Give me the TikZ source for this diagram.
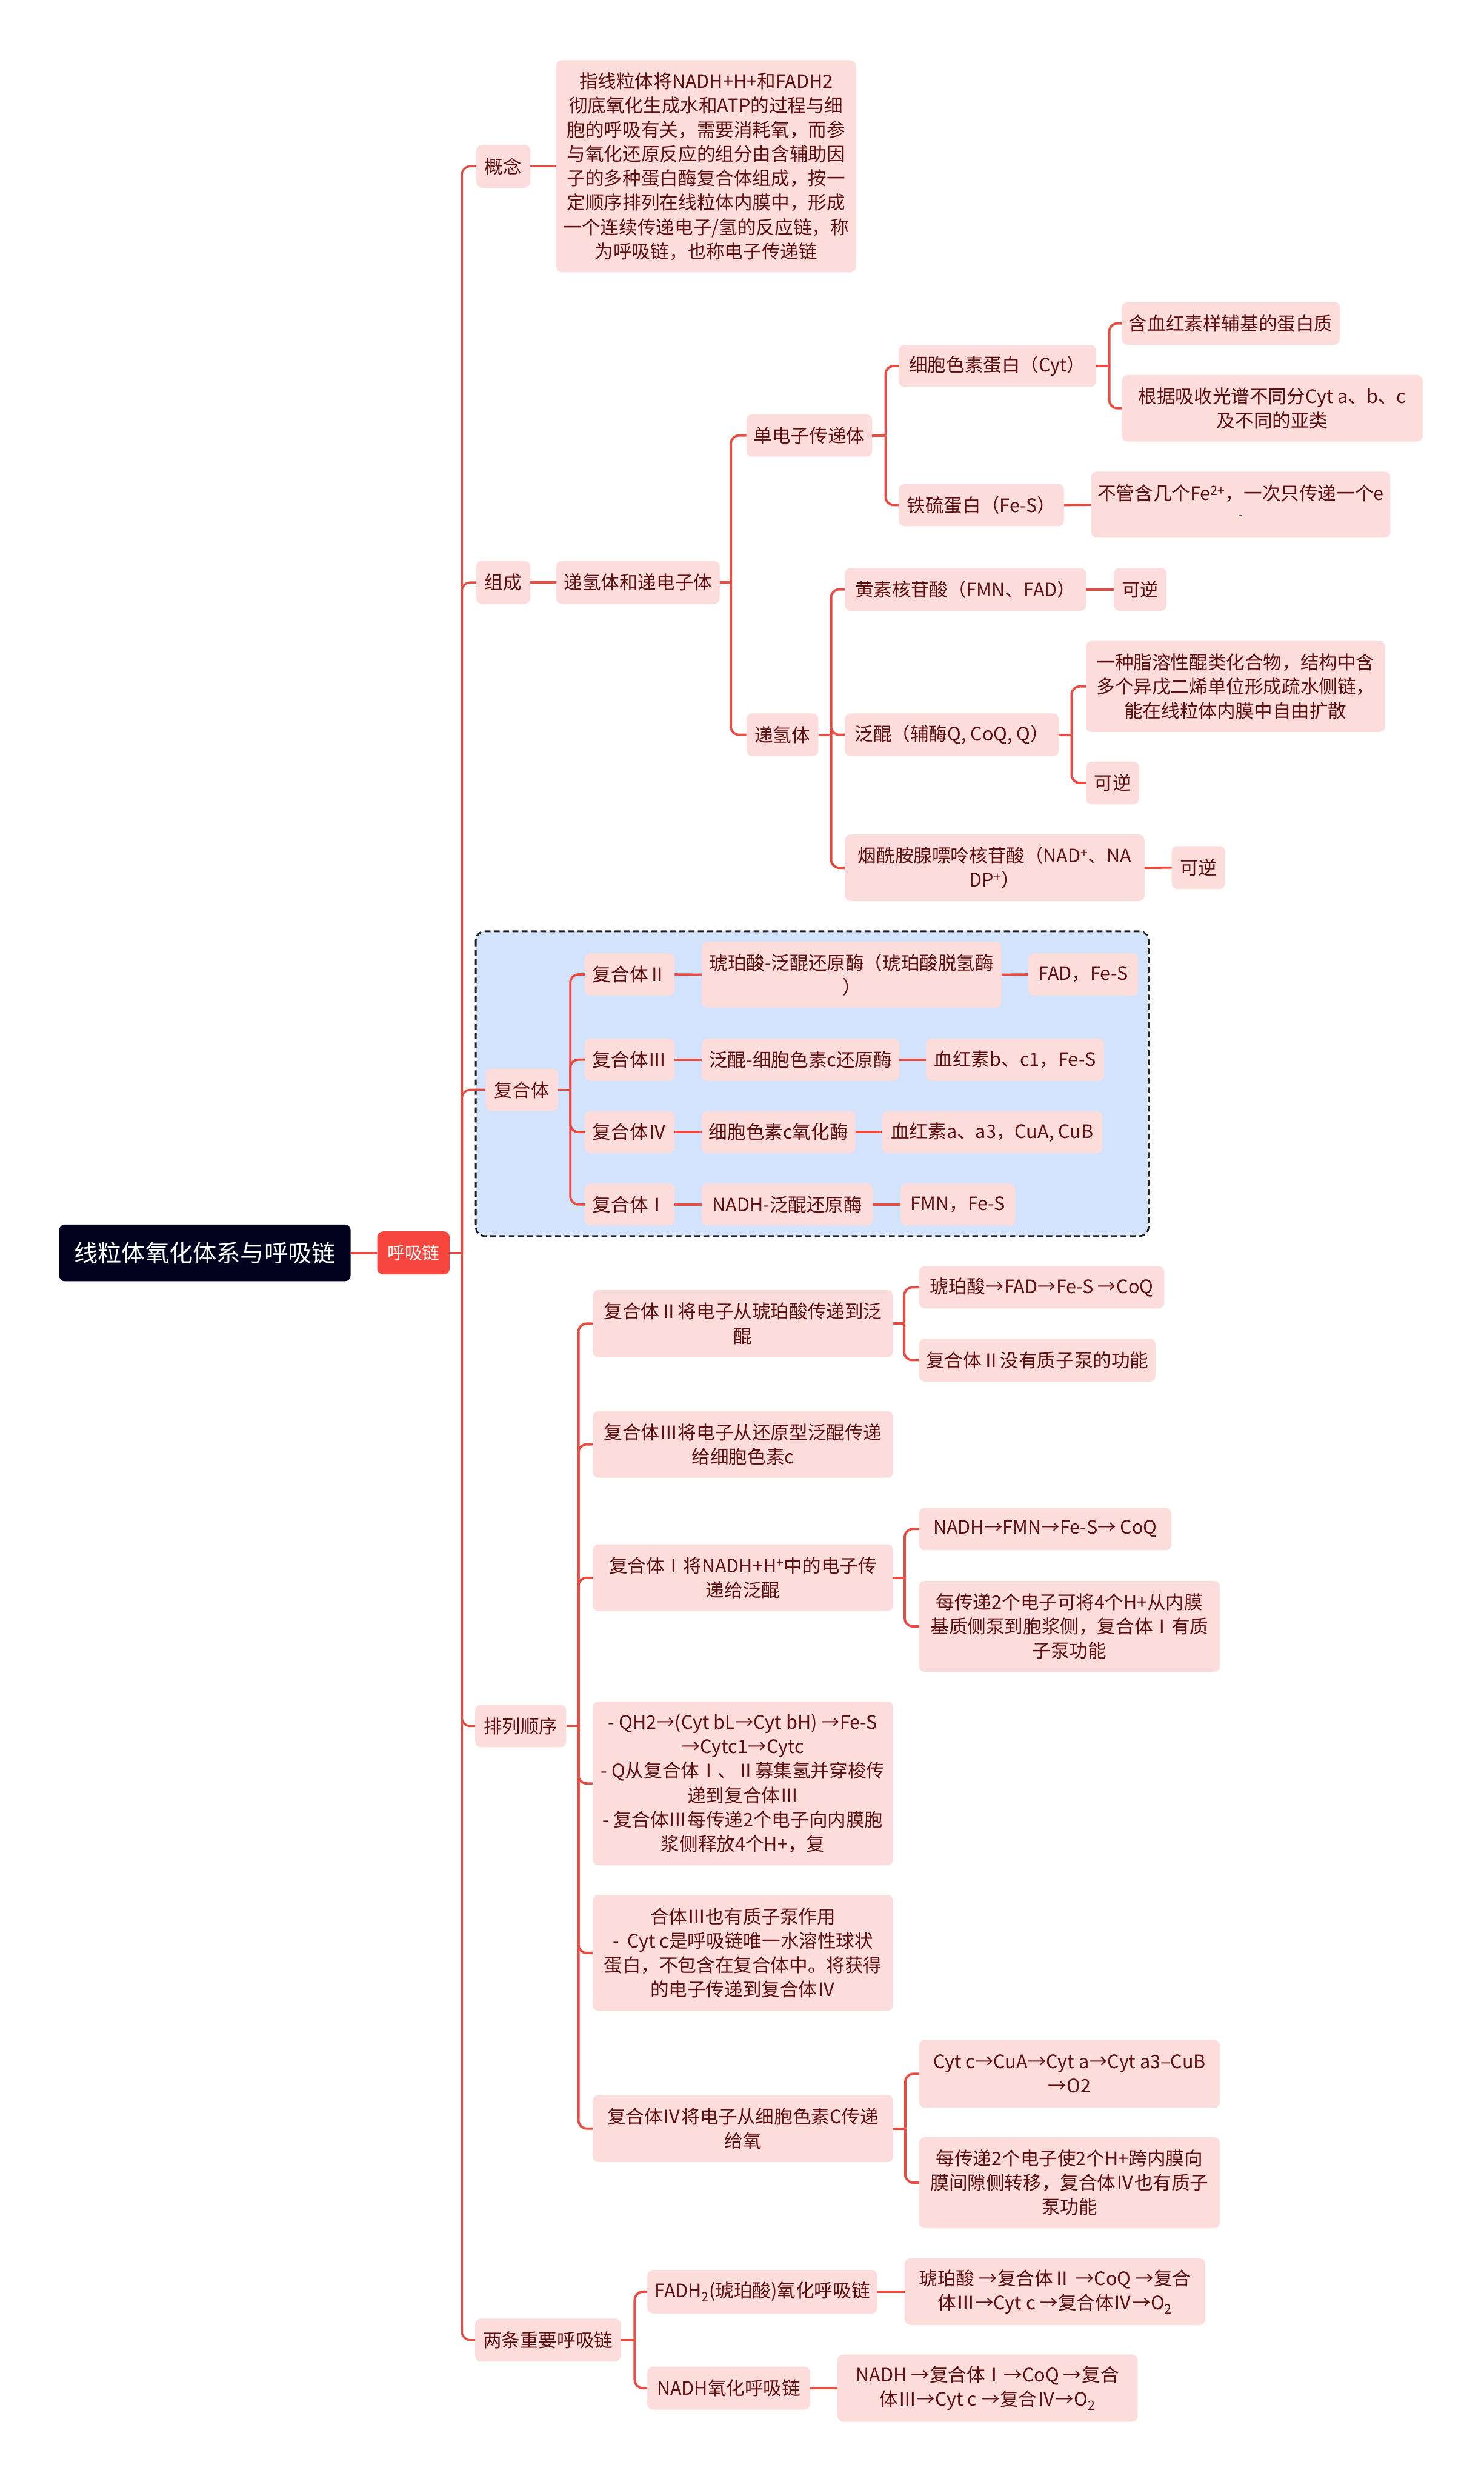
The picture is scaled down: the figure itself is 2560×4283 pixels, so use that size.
\documentclass[tikz,border=0pt]{standalone}
\usepackage{fontspec}
\setmainfont{Noto Sans CJK SC}
\usetikzlibrary{calc}
\definecolor{pinkfill}{HTML}{FDDCDC}
\definecolor{txtc}{HTML}{5E1010}
\definecolor{lred}{HTML}{EA4A40}
\definecolor{rootc}{HTML}{02021F}
\definecolor{nodered}{HTML}{F5453D}
\definecolor{bluefill}{HTML}{D4E3FC}
\definecolor{dashc}{HTML}{222222}
\newcommand\bx[7][]{\node[pbox,#1,minimum width={(#5)-(#3)},minimum height={(#6)-(#4)}] (#2) at ({(#3+#5)/2},{(#4+#6)/2}) {#7};}
\newcommand\br[4][]{\draw[conn,#1] (#2.east) -- ++(#3,0);
  \foreach \cc in {#4}{\draw[conn,#1,rounded corners=14pt] ($(#2.east)+(#3,0)$) |- (\cc.west);}}
\begin{document}
\begin{tikzpicture}[x=1pt,y=-1pt,
  pbox/.style={fill=pinkfill,draw=none,rounded corners=10pt,align=center,inner sep=0pt,text=txtc,font=\fontsize{32}{42}\selectfont},
  rootbox/.style={fill=rootc,text=white,font=\fontsize{41}{50}\selectfont},
  redbox/.style={fill=nodered,text=white,font=\fontsize{30}{40}\selectfont},
  conn/.style={draw=lred,line width=4pt},
  dashbox/.style={draw=dashc,fill=bluefill,line width=3pt,dash pattern=on 10pt off 6pt,rounded corners=16pt}]
\useasboundingbox (0,0) rectangle (2560,4283);
\fill[white] (0,0) rectangle (2560,4283);
% group frame
\path[dashbox] (821,1607) rectangle (1982,2133);
% root
\bx[rootbox]{root}{102}{2113}{605}{2211}{线粒体氧化体系与呼吸链}
\bx[redbox]{hxl}{651}{2125}{776}{2199}{呼吸链}
% concept
\bx{gn}{822}{250}{915}{324}{概念}
\bx{gnt}{960}{104}{1477}{470}{指线粒体将NADH+H+和FADH2\\彻底氧化生成水和ATP的过程与细\\胞的呼吸有关，需要消耗氧，而参\\与氧化还原反应的组分由含辅助因\\子的多种蛋白酶复合体组成，按一\\定顺序排列在线粒体内膜中，形成\\一个连续传递电子/氢的反应链，称\\为呼吸链，也称电子传递链}
% composition
\bx{zc}{822}{968}{915}{1042}{组成}
\bx{dq}{960}{968}{1242}{1042}{递氢体和递电子体}
\bx{ddz}{1288}{715}{1505}{788}{单电子传递体}
\bx{dqt}{1288}{1231}{1412}{1305}{递氢体}
\bx{cyt}{1551}{595}{1891}{668}{细胞色素蛋白（Cyt）}
\bx{fes}{1551}{835}{1836}{908}{铁硫蛋白（Fe-S）}
\bx{cyta}{1936}{521}{2312}{595}{含血红素样辅基的蛋白质}
\bx{cytb}{1936}{647}{2455}{762}{根据吸收光谱不同分Cyt a、b、c\\及不同的亚类}
\bx{fesa}{1883}{814}{2399}{928}{不管含几个Fe\textsuperscript{2+}，一次只传递一个e\\\textsuperscript{-}}
\bx{fmn}{1458}{980}{1874}{1054}{黄素核苷酸（FMN、FAD）}
\bx{fmna}{1922}{980}{2013}{1054}{可逆}
\bx{q}{1458}{1231}{1827}{1305}{泛醌（辅酶Q, CoQ, Q）}
\bx{qa}{1874}{1106}{2390}{1263}{一种脂溶性醌类化合物，结构中含\\多个异戊二烯单位形成疏水侧链，\\能在线粒体内膜中自由扩散}
\bx{qb}{1874}{1314}{1966}{1388}{可逆}
\bx{nad}{1458}{1440}{1975}{1555}{烟酰胺腺嘌呤核苷酸（NAD\textsuperscript{+}、NA\\DP\textsuperscript{+}）}
\bx{nada}{2022}{1460}{2114}{1534}{可逆}
% complexes
\bx{fht}{838}{1844}{963}{1917}{复合体}
\bx{cII}{1009}{1645}{1164}{1718}{复合体Ⅱ}
\bx{cIIa}{1211}{1625}{1728}{1739}{琥珀酸-泛醌还原酶（琥珀酸脱氢酶\\）}
\bx{cIIb}{1774}{1645}{1964}{1718}{FAD，Fe-S}
\bx{cIII}{1009}{1792}{1164}{1865}{复合体Ⅲ}
\bx{cIIIa}{1211}{1792}{1552}{1865}{泛醌-细胞色素c还原酶}
\bx{cIIIb}{1598}{1792}{1905}{1865}{血红素b、c1，Fe-S}
\bx{cIV}{1009}{1917}{1164}{1990}{复合体Ⅳ}
\bx{cIVa}{1211}{1917}{1476}{1990}{细胞色素c氧化酶}
\bx{cIVb}{1522}{1917}{1902}{1990}{血红素a、a3，CuA, CuB}
\bx{cI}{1009}{2042}{1164}{2115}{复合体Ⅰ}
\bx{cIa}{1211}{2042}{1506}{2115}{NADH-泛醌还原酶}
\bx{cIb}{1554}{2042}{1752}{2115}{FMN，Fe-S}
% order
\bx{pl}{820}{2942}{977}{3015}{排列顺序}
\bx{pa}{1023}{2226}{1541}{2342}{复合体Ⅱ将电子从琥珀酸传递到泛\\醌}
\bx{paa}{1586}{2185}{2009}{2258}{琥珀酸→FAD→Fe-S →CoQ}
\bx{pab}{1586}{2310}{1994}{2384}{复合体Ⅱ没有质子泵的功能}
\bx{pb}{1023}{2435}{1541}{2550}{复合体Ⅲ将电子从还原型泛醌传递\\给细胞色素c}
\bx{pc}{1023}{2665}{1541}{2780}{复合体Ⅰ将NADH+H\textsuperscript{+}中的电子传\\递给泛醌}
\bx{pca}{1586}{2602}{2021}{2675}{NADH→FMN→Fe-S→ CoQ}
\bx{pcb}{1586}{2728}{2105}{2885}{每传递2个电子可将4个H+从内膜\\基质侧泵到胞浆侧，复合体Ⅰ有质\\子泵功能}
\bx{pd}{1023}{2936}{1541}{3219}{- QH2→(Cyt bL→Cyt bH) →Fe-S\\→Cytc1→Cytc\\- Q从复合体Ⅰ、Ⅱ募集氢并穿梭传\\递到复合体Ⅲ\\- 复合体Ⅲ每传递2个电子向内膜胞\\浆侧释放4个H+，复}
\bx{pe}{1023}{3270}{1541}{3470}{合体Ⅲ也有质子泵作用\\-\ \ Cyt c是呼吸链唯一水溶性球状\\蛋白，不包含在复合体中。将获得\\的电子传递到复合体Ⅳ}
\bx{pf}{1023}{3615}{1541}{3731}{复合体Ⅳ将电子从细胞色素C传递\\给氧}
\bx{pfa}{1586}{3520}{2105}{3637}{Cyt c→CuA→Cyt a→Cyt a3–CuB\\→O2}
\bx{pfb}{1586}{3688}{2105}{3845}{每传递2个电子使2个H+跨内膜向\\膜间隙侧转移，复合体Ⅳ也有质子\\泵功能}
% two chains
\bx{lt}{820}{4001}{1071}{4075}{两条重要呼吸链}
\bx{fa}{1117}{3917}{1514}{3992}{FADH\textsubscript{2}(琥珀酸)氧化呼吸链}
\bx{faa}{1561}{3897}{2080}{4012}{琥珀酸 →复合体Ⅱ →CoQ →复合\\体Ⅲ→Cyt c →复合体Ⅳ→O\textsubscript{2}}
\bx{na}{1117}{4084}{1398}{4158}{NADH氧化呼吸链}
\bx{naa}{1445}{4063}{1963}{4179}{NADH →复合体Ⅰ→CoQ →复合\\体Ⅲ→Cyt c →复合Ⅳ→O\textsubscript{2}}
% connectors
\draw[conn] (root.east) -- (hxl.west);
\br[line width=3.5pt]{hxl}{21}{gn,zc,fht,pl,lt}
\draw[conn] (gn.east) -- (gnt.west);
\draw[conn] (zc.east) -- (dq.west);
\br{dq}{19}{ddz,dqt}
\br{ddz}{23}{cyt,fes}
\br{cyt}{23}{cyta,cytb}
\draw[conn] (fes.east) -- (fesa.west);
\br{dqt}{22}{fmn,q,nad}
\draw[conn] (fmn.east) -- (fmna.west);
\br{q}{22}{qa,qb}
\draw[conn] (nad.east) -- (nada.west);
\br{fht}{21}{cII,cIII,cIV,cI}
\draw[conn] (cII.east) -- (cIIa.west);
\draw[conn] (cIIa.east) -- (cIIb.west);
\draw[conn] (cIII.east) -- (cIIIa.west);
\draw[conn] (cIIIa.east) -- (cIIIb.west);
\draw[conn] (cIV.east) -- (cIVa.west);
\draw[conn] (cIVa.east) -- (cIVb.west);
\draw[conn] (cI.east) -- (cIa.west);
\draw[conn] (cIa.east) -- (cIb.west);
\br{pl}{21}{pa,pb,pc,pd,pe,pf}
\br{pa}{19}{paa,pab}
\br{pc}{20}{pca,pcb}
\br{pf}{21}{pfa,pfb}
\br{lt}{24}{fa,na}
\draw[conn] (fa.east) -- (faa.west);
\draw[conn] (na.east) -- (naa.west);
\end{tikzpicture}
\end{document}
